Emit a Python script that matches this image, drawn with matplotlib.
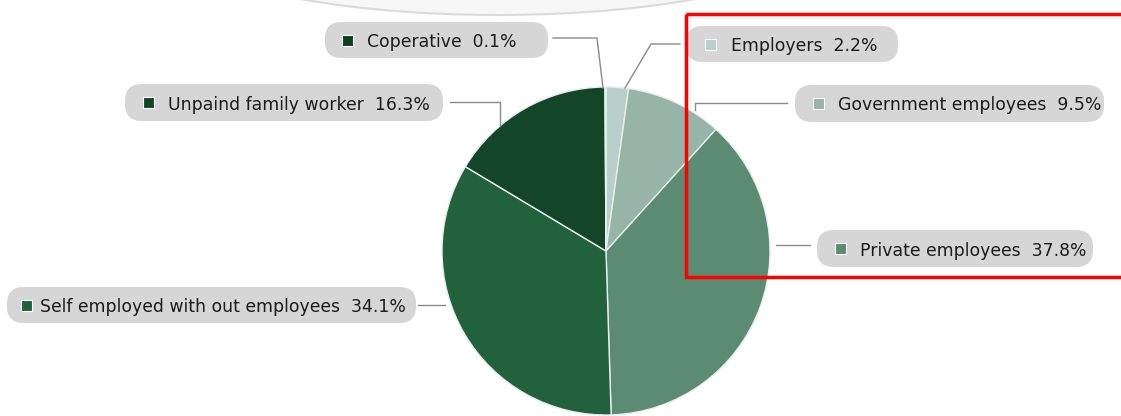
import numpy as np
import matplotlib.pyplot as plt
from matplotlib.patches import FancyBboxPatch, Rectangle, Ellipse

# data (clockwise from the top)
labels = ['Employers', 'Government employees', 'Private employees',
          'Self employed with out employees', 'Unpaind family worker', 'Coperative']
shares = [2.2, 9.5, 37.8, 34.1, 16.3, 0.1]
colors = ['#b9cfcb', '#97b4a9', '#5c8b73', '#21623d', '#134629', '#0f3d22']

# label boxes: x0, x1, y0, y1, square offset, text offset (pixels)
boxes = [(686, 898, 26, 62, 19, 45), (795, 1104, 85, 122, 18, 43),
         (817, 1093, 230, 267, 18, 43), (7, 416, 287, 323, 14, 33),
         (125, 443, 84, 121, 18, 43), (325, 548, 22, 58, 17, 42)]
# leader lines
leaders = [[(680, 44), (651, 44), (625, 88)],
           [(787, 103), (695, 103), (695, 110)],
           [(810, 245), (776, 245)],
           [(418, 305), (445, 305)],
           [(450, 102), (500, 102), (500, 125)],
           [(553, 38), (597, 38), (603, 88)]]

plt.rcParams['font.family'] = ['DejaVu Sans']

fig = plt.figure(figsize=(11.21, 4.16), dpi=100)
ax = fig.add_axes([0, 0, 1, 1])

# faint watermark at the top
ax.add_patch(Ellipse((498, -60), 640, 150, facecolor='#f7f7f7', edgecolor='#dadada', lw=1.5, zorder=0))

# y axis is inverted below, so counterclock=True draws clockwise on screen
ax.pie(shares, colors=colors, startangle=-90, counterclock=True,
       center=(606, 251), radius=164, frame=True,
       wedgeprops=dict(edgecolor='#e8eeea', linewidth=1))
ax.set_xlim(0, 1121)
ax.set_ylim(416, 0)
ax.axis('off')

for lab, val, col, (x0, x1, y0, y1, sq, tx), pts in zip(labels, shares, colors, boxes, leaders):
    h = y1 - y0
    ax.add_patch(FancyBboxPatch((x0, y0), x1 - x0, h,
                                boxstyle='round,pad=0,rounding_size=%g' % (h / 2.2),
                                facecolor='#d5d6d5', edgecolor='none', zorder=3))
    ym = (y0 + y1) / 2
    ax.add_patch(Rectangle((x0 + sq, ym - 5.5), 11, 11, facecolor=col,
                           edgecolor='white', lw=0.8, zorder=4))
    ax.text(x0 + tx, ym, '%s  %.1f%%' % (lab, val), ha='left', va='center_baseline',
            fontsize=12.4, color='#1c1c1c', zorder=5)
    xs, ys = zip(*pts)
    ax.plot(xs, ys, color='#8a8a8a', lw=1, zorder=2)

# red highlight frame
ax.add_patch(Rectangle((686, 14), 460, 263, facecolor='none', edgecolor='#ff0000',
                       lw=2.5, zorder=6, clip_on=False))

fig.savefig('out.png', dpi=100)
